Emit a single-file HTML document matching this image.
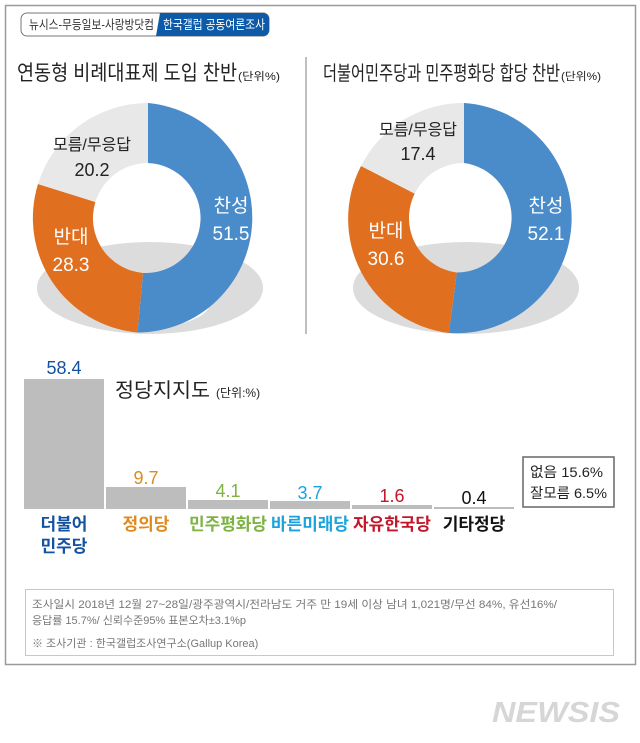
<!DOCTYPE html>
<html><head><meta charset="utf-8"><style>
html,body{margin:0;padding:0;background:#fff;}
svg text{font-family:"Liberation Sans","Noto Sans CJK KR",sans-serif;}
</style></head><body>
<svg width="640" height="738" viewBox="0 0 640 738" xmlns="http://www.w3.org/2000/svg">
<rect x="0" y="0" width="640" height="738" fill="#fff"/>
<rect x="5.5" y="5.5" width="630" height="659" fill="#fff" stroke="#9a9a9a" stroke-width="1.5"/>
<!-- header tag -->
<rect x="21" y="13" width="248" height="23" rx="6" fill="#fff" stroke="#777" stroke-width="1"/>
<path d="M160 13 H263 a6 6 0 0 1 6 6 V30 a6 6 0 0 1 -6 6 H156 Z" fill="#0d5ba8"/>
<text x="29" y="29" font-size="12.5" fill="#333" textLength="125" lengthAdjust="spacingAndGlyphs">뉴시스-무등일보-사랑방닷컴</text>
<text x="163" y="29" font-size="12.5" fill="#fff" textLength="102" lengthAdjust="spacingAndGlyphs">한국갤럽 공동여론조사</text>
<!-- titles -->
<text x="17" y="80" font-size="21" fill="#222" textLength="220" lengthAdjust="spacingAndGlyphs">연동형 비례대표제 도입 찬반</text>
<text x="238" y="80" font-size="11" fill="#222" textLength="42" lengthAdjust="spacingAndGlyphs">(단위%)</text>
<text x="323" y="80" font-size="20" fill="#222" textLength="237" lengthAdjust="spacingAndGlyphs">더불어민주당과 민주평화당 합당 찬반</text>
<text x="561" y="80" font-size="11" fill="#222" textLength="40" lengthAdjust="spacingAndGlyphs">(단위%)</text>
<line x1="306" y1="57" x2="306" y2="334" stroke="#aaa" stroke-width="1.5"/>
<!-- left donut -->
<ellipse cx="150" cy="288" rx="113" ry="46" fill="#dcdcdc"/>
<ellipse cx="150" cy="303" rx="60" ry="24" fill="#fff"/>
<path d="M148 103 A115 115 0 0 1 137.5 332.5 L143 273 A55 55 0 0 0 148 163 Z" fill="#4a8bc9"/>
<path d="M137.5 332.5 A115 115 0 0 1 38 184 L95.4 202 A55 55 0 0 0 143 273 Z" fill="#e07020"/>
<path d="M38 184 A115 115 0 0 1 148 103 L148 163 A55 55 0 0 0 95.4 202 Z" fill="#e8e8e8"/>
<!-- right donut -->
<ellipse cx="466" cy="288" rx="113" ry="46" fill="#dcdcdc"/>
<ellipse cx="466" cy="303" rx="60" ry="24" fill="#fff"/>
<path d="M464 103 A115 115 0 0 1 448.9 333 L456.8 272.5 A55 55 0 0 0 464 163 Z" fill="#4a8bc9"/>
<path d="M448.9 333 A115 115 0 0 1 361 166 L414.7 193.6 A55 55 0 0 0 456.8 272.5 Z" fill="#e07020"/>
<path d="M361 166 A115 115 0 0 1 464 103 L464 163 A55 55 0 0 0 414.7 193.6 Z" fill="#e8e8e8"/>
<!-- donut labels -->
<g font-size="18" text-anchor="middle">
<text x="92" y="150" font-size="16" fill="#222">모름/무응답</text>
<text x="92" y="176" fill="#222">20.2</text>
<text x="231" y="212" fill="#fff" font-size="19">찬성</text>
<text x="231" y="240" fill="#fff" font-size="19">51.5</text>
<text x="71" y="243" fill="#fff" font-size="19">반대</text>
<text x="71" y="271" fill="#fff" font-size="19">28.3</text>
<text x="418" y="135" font-size="16" fill="#222">모름/무응답</text>
<text x="418" y="160" fill="#222">17.4</text>
<text x="546" y="212" fill="#fff" font-size="19">찬성</text>
<text x="546" y="240" fill="#fff" font-size="19">52.1</text>
<text x="386" y="237" fill="#fff" font-size="19">반대</text>
<text x="386" y="265" fill="#fff" font-size="19">30.6</text>
</g>
<!-- bars -->
<g fill="#bdbdbd">
<rect x="24" y="379" width="80" height="130"/>
<rect x="106" y="487" width="80" height="22"/>
<rect x="188" y="500" width="80" height="9"/>
<rect x="270" y="501" width="80" height="8"/>
<rect x="352" y="505" width="80" height="4"/>
<rect x="434" y="507" width="80" height="2"/>
</g>
<text x="115" y="397" font-size="20" fill="#222" textLength="95" lengthAdjust="spacingAndGlyphs">정당지지도</text>
<text x="216" y="397" font-size="12" fill="#222">(단위:%)</text>
<g font-size="18" text-anchor="middle">
<text x="64" y="374" fill="#1452a0">58.4</text>
<text x="146" y="484" fill="#e08a1e">9.7</text>
<text x="228" y="497" fill="#7cb342">4.1</text>
<text x="310" y="499" fill="#1aa3dc">3.7</text>
<text x="392" y="502" fill="#c0182a">1.6</text>
<text x="474" y="504" fill="#111">0.4</text>
</g>
<g font-size="17" font-weight="bold" text-anchor="middle">
<text x="64" y="530" fill="#1452a0">더불어</text>
<text x="64" y="552" fill="#1452a0">민주당</text>
<text x="146" y="530" fill="#e08a1e">정의당</text>
<text x="228" y="530" fill="#7cb342" textLength="78" lengthAdjust="spacingAndGlyphs">민주평화당</text>
<text x="310" y="530" fill="#1aa3dc" textLength="78" lengthAdjust="spacingAndGlyphs">바른미래당</text>
<text x="392" y="530" fill="#c0182a" textLength="78" lengthAdjust="spacingAndGlyphs">자유한국당</text>
<text x="474" y="530" fill="#111">기타정당</text>
</g>
<rect x="523" y="457" width="91" height="50" fill="#fff" stroke="#666" stroke-width="1.5"/>
<text x="530" y="477" font-size="14" fill="#222" textLength="73" lengthAdjust="spacingAndGlyphs">없음 15.6%</text>
<text x="530" y="498" font-size="14" fill="#222" textLength="77" lengthAdjust="spacingAndGlyphs">잘모름 6.5%</text>
<!-- footnote -->
<rect x="25.5" y="589.5" width="588" height="66" fill="#fff" stroke="#c8c8c8" stroke-width="1"/>
<text x="32" y="608" font-size="11" fill="#777" textLength="525" lengthAdjust="spacingAndGlyphs">조사일시 2018년 12월 27~28일/광주광역시/전라남도 거주 만 19세 이상 남녀 1,021명/무선 84%, 유선16%/</text>
<text x="32" y="624" font-size="11" fill="#777">응답률 15.7%/ 신뢰수준95% 표본오차±3.1%p</text>
<text x="32" y="647" font-size="11" fill="#777">※ 조사기관 : 한국갤럽조사연구소(Gallup Korea)</text>
<!-- logo -->
<text x="492" y="722" font-size="29" font-weight="bold" font-style="italic" fill="#d6d6d6" textLength="128" lengthAdjust="spacingAndGlyphs">NEWSIS</text>
</svg>
</body></html>
